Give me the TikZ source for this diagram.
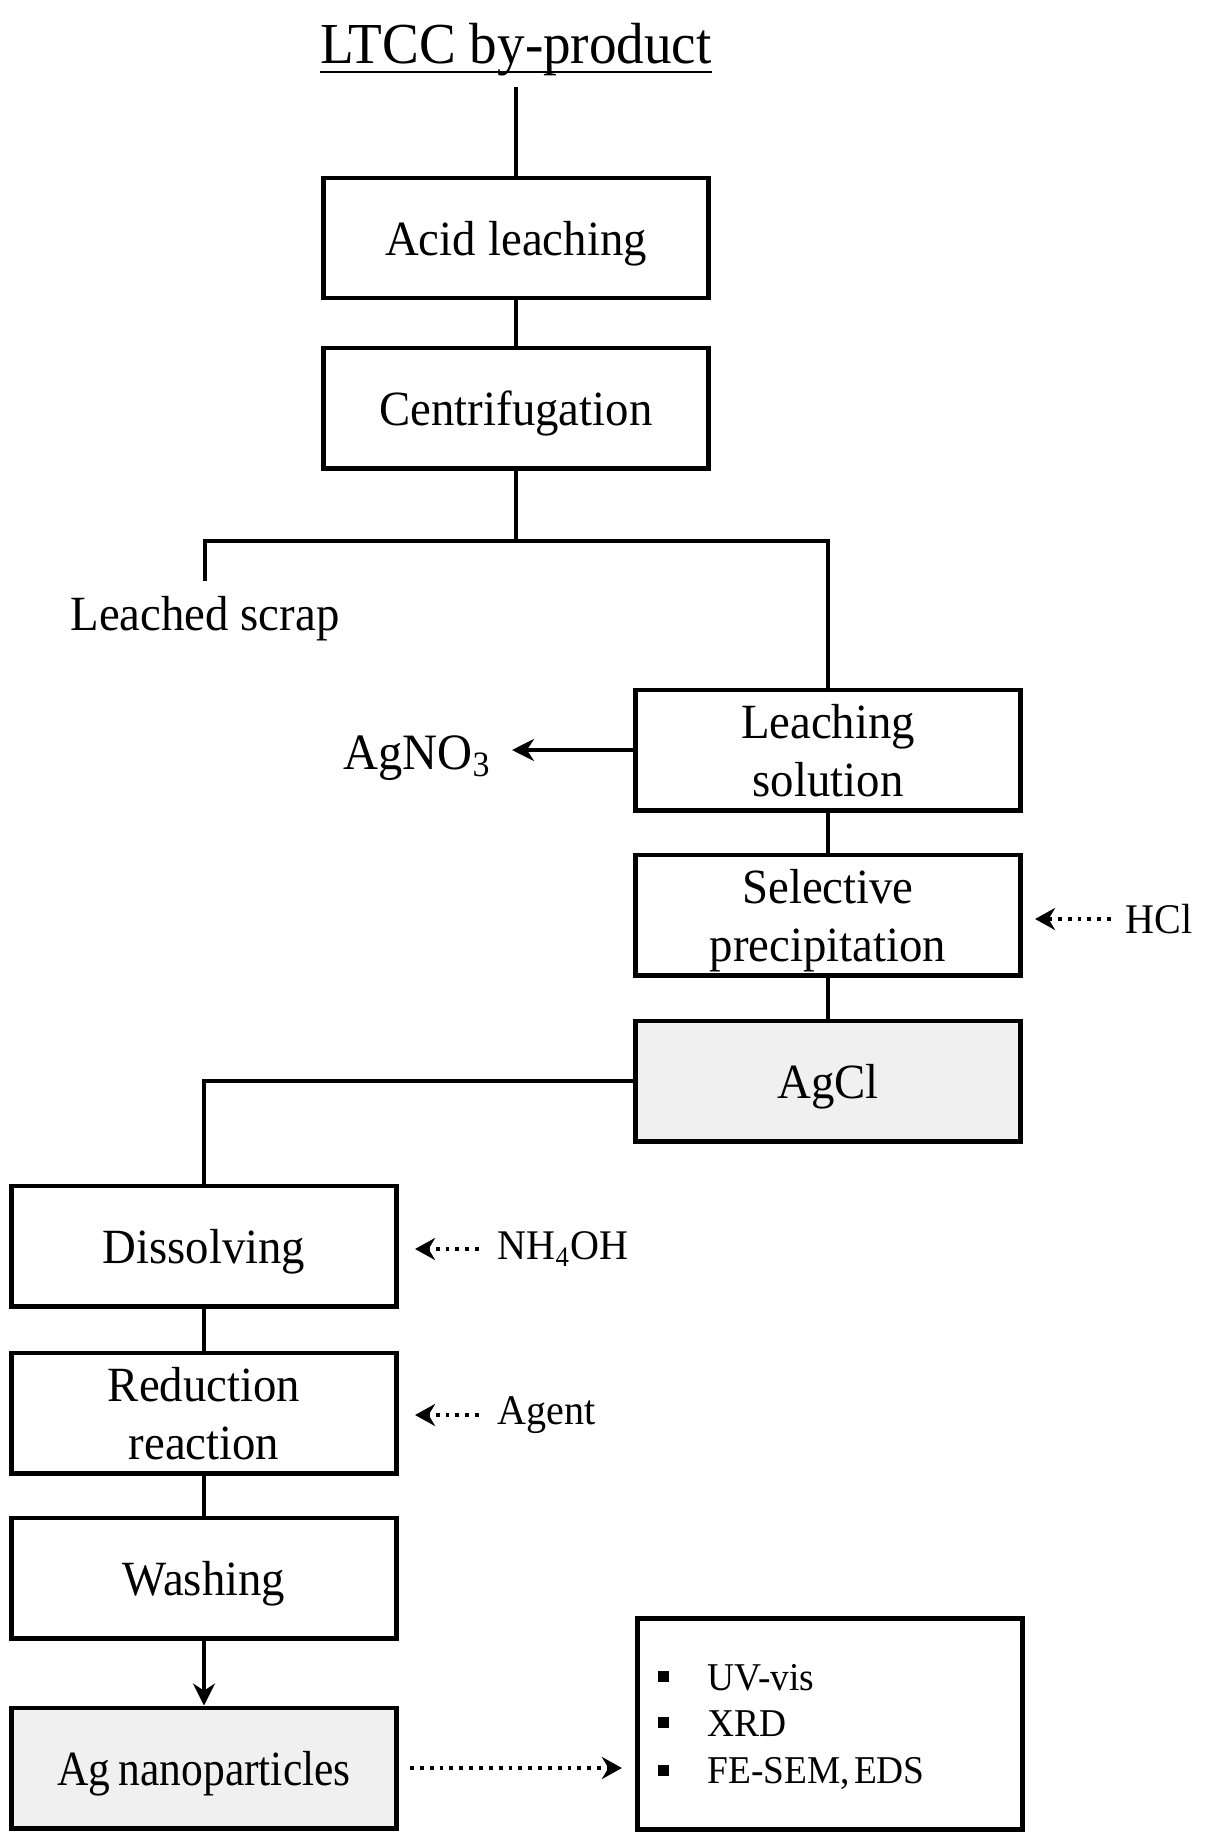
\documentclass[tikz,border=0pt]{standalone}
\usepackage{graphicx}
\usepackage{fontspec}
\setmainfont{Liberation Serif}[FakeStretch=0.95]
\usetikzlibrary{arrows.meta,positioning}
\tikzset{
  stepbox/.style={draw, line width=1.4pt, minimum width=3.85cm, minimum height=1.2cm, align=center, inner sep=2pt, text depth=0pt, font=\fontsize{14}{16.5}\selectfont},
  graybox/.style={stepbox, fill=black!6},
  link/.style={line width=1.15pt},
  sidetxt/.style={font=\fontsize{12}{14}\selectfont, inner sep=0pt},
  listtxt/.style={font=\fontsize{11.2}{13}\selectfont, inner sep=0pt},
  dotarrow/.style={line width=1.4pt, dash pattern=on 1.1pt off 1.7pt, -{Stealth[length=0.2cm,width=0.22cm]}},
  bulletsq/.style={fill, minimum size=0.11cm, inner sep=0pt}
}
\begin{document}
\begin{tikzpicture}[x=0.01cm, y=-0.01cm]
\useasboundingbox (0,0) rectangle (1216,1833);
% top of the flow
\node[font=\fontsize{16.5}{18}\selectfont, inner sep=0pt, anchor=base] (ltcc) at (516,64) {LTCC by-product};
\draw[line width=0.7pt] ([yshift=-0.08cm]ltcc.base west) -- ([yshift=-0.08cm]ltcc.base east);
\coordinate (start) at (516,87);
\node[stepbox] (acid) at (516,238) {Acid\hspace{0.25em}leaching};
\node[stepbox] (centrif) at (516,408) {Centrifugation};
\draw[link] (start) -- (acid);
\draw[link] (acid) -- (centrif);
% split
\coordinate (brL) at (205,541);
\coordinate (scraptop) at (205,581);
\node[font=\fontsize{14}{16}\selectfont] (scrap) at (205,619) {Leached scrap};
\node[stepbox] (leachsol) at (828,750) {Leaching\\solution};
\coordinate (brR) at (leachsol.north |- brL);
\draw[link] (centrif) -- (centrif |- brL);
\draw[link] (scraptop) -- (brL) -- (brR) -- (leachsol);
\node[sidetxt, font=\fontsize{14.5}{16}\selectfont, anchor=east] (agno3) at (492,758) {AgNO\textsubscript{3}};
\draw[link, line width=1.2pt, -{Stealth[length=0.22cm,width=0.22cm]}] (leachsol) -- (leachsol -| agno3.east) [shorten >=0.2cm];
\node[stepbox] (selprec) at (828,915) {Selective\\precipitation};
\node[graybox] (agcl) at (828,1081) {AgCl};
\draw[link] (leachsol) -- (selprec);
\draw[link] (selprec) -- (agcl);
\node[sidetxt, anchor=west] (hcl) at (1125,919) {HCl};
\draw[dotarrow, shorten >=0.12cm, shorten <=0.14cm] (hcl.west) -- (hcl.west -| selprec.east);
% left column
\node[stepbox] (dissolv) at (204,1246) {Dissolving};
\node[stepbox] (reduct) at (204,1413) {Reduction\\reaction};
\node[stepbox] (washing) at (204,1578) {Washing};
\node[graybox] (agnano) at (204,1768) {\scalebox{0.93}[1]{Ag\hspace{0.18em}nanoparticles}};
\draw[link] (agcl) -| (dissolv);
\draw[link] (dissolv) -- (reduct);
\draw[link] (reduct) -- (washing);
\draw[link, line width=1.2pt, -{Stealth[length=0.22cm,width=0.22cm]}] (washing) -- (agnano);
\node[sidetxt, anchor=west] (nh4oh) at (497,1249) {NH\textsubscript{4}OH};
\draw[dotarrow, shorten >=0.16cm, shorten <=0.18cm] (nh4oh.west) -- (nh4oh.west -| dissolv.east);
\node[sidetxt, anchor=west] (agent) at (497,1415) {Agent};
\draw[dotarrow, shorten >=0.16cm, shorten <=0.18cm] (agent.west) -- (agent.west -| reduct.east);
% characterisation
\node[stepbox, minimum height=2.11cm] (analysis) at (830,1724) {};
\draw[dotarrow, shorten >=0.13cm, shorten <=0.11cm] (agnano) -- (agnano -| analysis.west);
\node[bulletsq] (b1) at (663,1676) {};
\node[bulletsq] (b2) at (663,1722) {};
\node[bulletsq] (b3) at (663,1770) {};
\node[listtxt, anchor=west] (uv) at (707,1678) {UV-vis};
\node[listtxt, anchor=west] (xrd) at (707,1724) {XRD};
\node[listtxt, anchor=west] (sem) at (707,1773) {FE-SEM,\hspace{0.1em}EDS};
\end{tikzpicture}
\end{document}
